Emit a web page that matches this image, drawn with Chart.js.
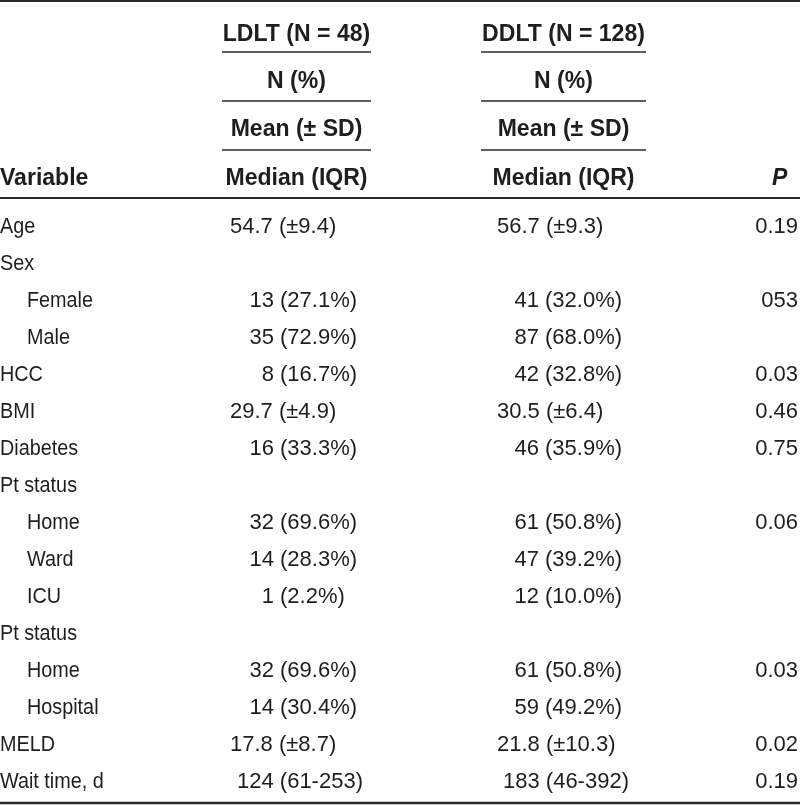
<!DOCTYPE html>
<html>
<head>
<meta charset="utf-8">
<script src="https://cdn.jsdelivr.net/npm/chart.js@4/dist/chart.umd.min.js"></script>
<style>
  html, body { margin: 0; padding: 0; background: #fff; }
  #wrap { width: 800px; height: 806px; }
</style>
</head>
<body>
<div id="wrap"><canvas id="tbl" width="800" height="806"></canvas></div>
<script>
// table content, one entry per body row
const rowLabels = ['Age', 'Sex', 'Female', 'Male', 'HCC', 'BMI', 'Diabetes', 'Pt status',
    'Home', 'Ward', 'ICU', 'Pt status', 'Home', 'Hospital', 'MELD', 'Wait time, d'];
const rowIndent = [0, 0, 1, 1, 0, 0, 0, 0, 1, 1, 1, 0, 1, 1, 0, 0];
const ldltValues = ['54.7 (±9.4)', '', '13 (27.1%)', '35 (72.9%)', '8 (16.7%)', '29.7 (±4.9)',
    '16 (33.3%)', '', '32 (69.6%)', '14 (28.3%)', '1 (2.2%)', '', '32 (69.6%)', '14 (30.4%)',
    '17.8 (±8.7)', '124 (61-253)'];
const ddltValues = ['56.7 (±9.3)', '', '41 (32.0%)', '87 (68.0%)', '42 (32.8%)', '30.5 (±6.4)',
    '46 (35.9%)', '', '61 (50.8%)', '47 (39.2%)', '12 (10.0%)', '', '61 (50.8%)', '59 (49.2%)',
    '21.8 (±10.3)', '183 (46-392)'];
const pValues = ['0.19', '', '053', '', '0.03', '0.46', '0.75', '', '0.06', '', '', '', '0.03', '',
    '0.02', '0.19'];

// header text
const groupHeaders = ['LDLT (N = 48)', 'DDLT (N = 128)'];
const statHeaders = ['N (%)', 'Mean (± SD)', 'Median (IQR)'];
const firstHeader = 'Variable';
const lastHeader = 'P';

// layout / style (pixels)
const INK = '#1e1e1e';
const RULE = '#2b2b2b';
const FONT = "'Liberation Sans', Arial, sans-serif";
const bodyFont = '22px ' + FONT;
const headFont = 'bold 24px ' + FONT;
const headSqueeze = 0.96;
const cols = {
    name: { x: 0, indent: 27, squeeze: 0.9 },
    ldlt: { x: 296.5, span: 149, countRight: 274, parenLeft: 280, meanLeft: 230, medianLeft: 237 },
    ddlt: { x: 563.5, span: 165, countRight: 539, parenLeft: 545, meanLeft: 497, medianLeft: 503 },
    p: { x: 798 }
};
const headerRowsY = [32, 79.5, 127.5, 176];
const headerRulesY = [52, 101, 150];

function capBase(y, px) { return y + px * 0.358; }

function drawCell(ctx, key, txt, x, y, i) {
    ctx.fillStyle = INK;
    ctx.font = bodyFont;
    const by = capBase(y, 22);
    const c = cols[key];
    if (key === 'name') {
        ctx.save();
        ctx.translate(x + rowIndent[i] * c.indent, by);
        ctx.scale(c.squeeze, 1);
        ctx.textAlign = 'left';
        ctx.fillText(txt, 0, 0);
        ctx.restore();
        return;
    }
    if (key === 'p') {
        ctx.textAlign = 'right';
        ctx.fillText(txt, x, by);
        return;
    }
    const dx = x - c.x;
    if (txt.includes('±')) {
        ctx.textAlign = 'left';
        ctx.fillText(txt, c.meanLeft + dx, by);
    } else if (txt.includes('%')) {
        const cut = txt.indexOf(' (');
        ctx.textAlign = 'right';
        ctx.fillText(txt.slice(0, cut), c.countRight + dx, by);
        ctx.textAlign = 'left';
        ctx.fillText(txt.slice(cut + 1), c.parenLeft + dx, by);
    } else {
        ctx.textAlign = 'left';
        ctx.fillText(txt, c.medianLeft + dx, by);
    }
}

function headText(ctx, txt, x, y, align, font) {
    ctx.save();
    ctx.font = font || headFont;
    ctx.textAlign = align;
    ctx.translate(x, capBase(y, 24));
    ctx.scale(headSqueeze, 1);
    ctx.fillText(txt, 0, 0);
    ctx.restore();
}

function rule(ctx, x0, x1, y, w) {
    ctx.strokeStyle = RULE;
    ctx.lineWidth = w;
    ctx.beginPath();
    ctx.moveTo(x0, y);
    ctx.lineTo(x1, y);
    ctx.stroke();
}

const tablePlugin = {
    id: 'tableText',
    beforeDraw(chart) {
        const ctx = chart.ctx;
        ctx.save();
        ctx.fillStyle = '#fff';
        ctx.fillRect(0, 0, chart.width, chart.height);
        ctx.restore();
    },
    afterDatasetsDraw(chart) {
        const ctx = chart.ctx;
        ctx.save();
        chart.data.datasets.forEach((ds, di) => {
            const meta = chart.getDatasetMeta(di);
            meta.data.forEach((pt, i) => {
                const txt = ds.texts[i];
                if (txt) drawCell(ctx, ds.column, txt, pt.x, pt.y, i);
            });
        });
        ctx.restore();
    },
    afterDraw(chart) {
        const ctx = chart.ctx;
        const W = chart.width;
        ctx.save();
        ctx.fillStyle = INK;
        // header block
        ['ldlt', 'ddlt'].forEach((k, gi) => {
            const c = cols[k];
            headText(ctx, groupHeaders[gi], c.x, headerRowsY[0], 'center');
            statHeaders.forEach((s, si) => headText(ctx, s, c.x, headerRowsY[si + 1], 'center'));
            headerRulesY.forEach(y => rule(ctx, c.x - c.span / 2, c.x + c.span / 2, y, 1.5));
        });
        headText(ctx, firstHeader, 0, headerRowsY[3], 'left');
        headText(ctx, lastHeader, 772, headerRowsY[3], 'left', 'italic ' + headFont);
        // horizontal rules
        rule(ctx, 0, W, 1, 2);
        rule(ctx, 0, W, 198, 2);
        rule(ctx, 0, W, 803, 2.5);
        ctx.restore();
    }
};

function columnSet(key, texts) {
    return {
        label: key,
        column: key,
        texts: texts,
        data: rowLabels.map((_, i) => ({ x: cols[key].x, y: i })),
        pointRadius: 0,
        pointHoverRadius: 0,
        showLine: false
    };
}

new Chart(document.getElementById('tbl').getContext('2d'), {
    type: 'scatter',
    data: {
        datasets: [
            columnSet('name', rowLabels),
            columnSet('ldlt', ldltValues),
            columnSet('ddlt', ddltValues),
            columnSet('p', pValues)
        ]
    },
    options: {
        responsive: false,
        animation: false,
        events: [],
        layout: { padding: { top: 206.5, bottom: 7.5, left: 0, right: 0 } },
        plugins: { legend: { display: false }, tooltip: { enabled: false } },
        scales: {
            x: { type: 'linear', min: 0, max: 800, display: false },
            y: { type: 'category', labels: rowLabels.map((_, i) => i), offset: true, display: false }
        }
    },
    plugins: [tablePlugin]
});
</script>
</body>
</html>
